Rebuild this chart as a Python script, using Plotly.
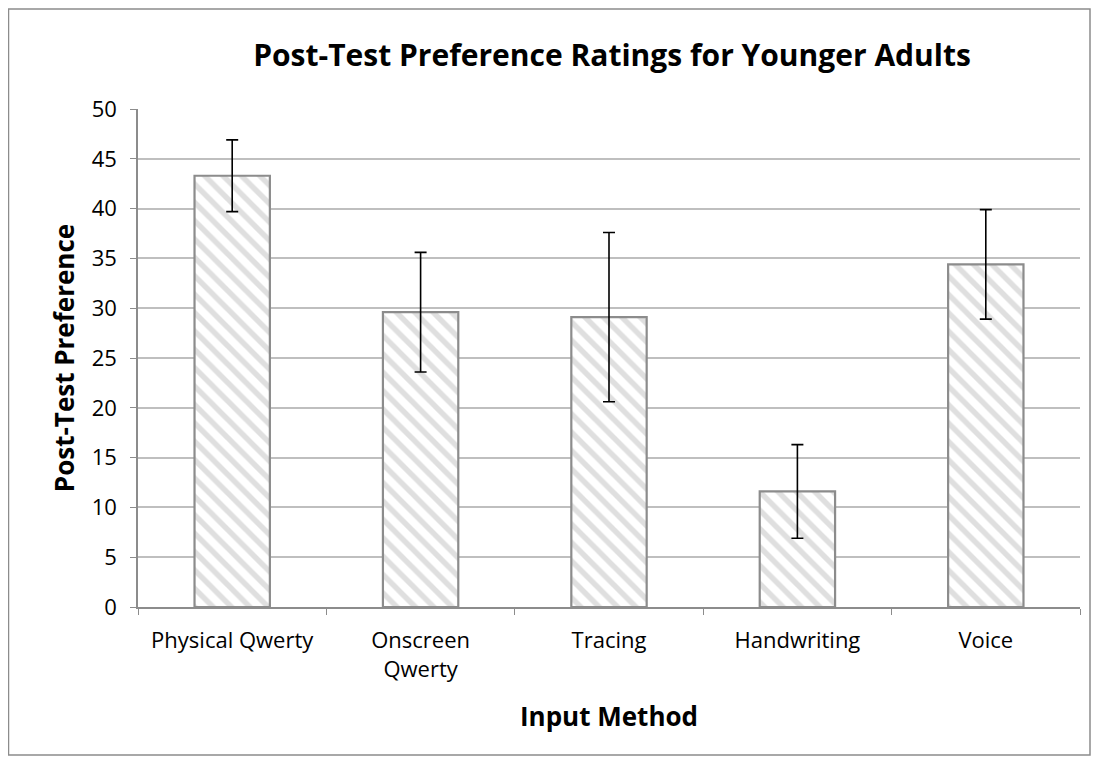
import plotly.graph_objects as go

categories = ["Physical Qwerty", "Onscreen<br>Qwerty", "Tracing", "Handwriting", "Voice"]
values = [43.3, 29.6, 29.1, 11.6, 34.4]
errors = [3.6, 6.0, 8.5, 4.7, 5.5]

W, H = 1099, 763
L, R, T, B = 130, 27, 101, 164
pw, ph = W - L - R, H - T - B

fig = go.Figure()
fig.add_trace(go.Bar(
    x=categories, y=values,
    width=0.4,
    marker=dict(
        color="white",
        line=dict(color="#8c8c8c", width=2.2),
        pattern=dict(shape="\\", fgcolor="#bfbfbf", bgcolor="white", size=13, solidity=0.42),
    ),
    error_y=dict(type="data", array=errors, visible=True, color="black", thickness=1.6, width=6),
))

fig.update_layout(
    width=W, height=H,
    paper_bgcolor="white", plot_bgcolor="white",
    margin=dict(l=L, r=R, t=T, b=B),
    font=dict(family="Open Sans, sans-serif", color="black", size=22),
    title=dict(text="<b>Post-Test Preference Ratings for Younger Adults</b>",
               x=(612 - 8) / W, xanchor="center", y=1 - 47 / H, yanchor="middle",
               font=dict(size=30)),
    showlegend=False,
)
fig.update_xaxes(
    showline=True, linecolor="#8c8c8c", linewidth=1.5,
    ticks="outside", tickson="boundaries", ticklen=6, tickcolor="#8c8c8c",
    ticklabelstandoff=13,
    title=dict(text="<b>Input Method</b>", font=dict(size=26), standoff=26),
    tickfont=dict(size=22),
    automargin=False,
)
fig.update_yaxes(
    range=[0, 50], dtick=5,
    showline=True, linecolor="#8c8c8c", linewidth=1.5,
    ticks="outside", ticklen=6, tickcolor="#8c8c8c",
    ticklabelstandoff=9,
    showgrid=True, gridcolor="#bfbfbf", gridwidth=1.5,
    zeroline=False,
    title=dict(text="<b>Post-Test Preference</b>", font=dict(size=26), standoff=10),
    tickfont=dict(size=22),
    automargin=False,
)
# outer chart border (figure pixel coords converted to paper fractions)
bx0, bx1, by0, by1 = 0.5, 1082, 1, 747
fig.add_shape(type="rect", xref="paper", yref="paper",
              x0=(bx0 - L) / pw, x1=(bx1 - L) / pw,
              y0=(H - B - by1) / ph, y1=(H - B - by0) / ph,
              line=dict(color="#8c8c8c", width=1.5), fillcolor="rgba(0,0,0,0)", layer="below")

fig.write_html("out.html")
